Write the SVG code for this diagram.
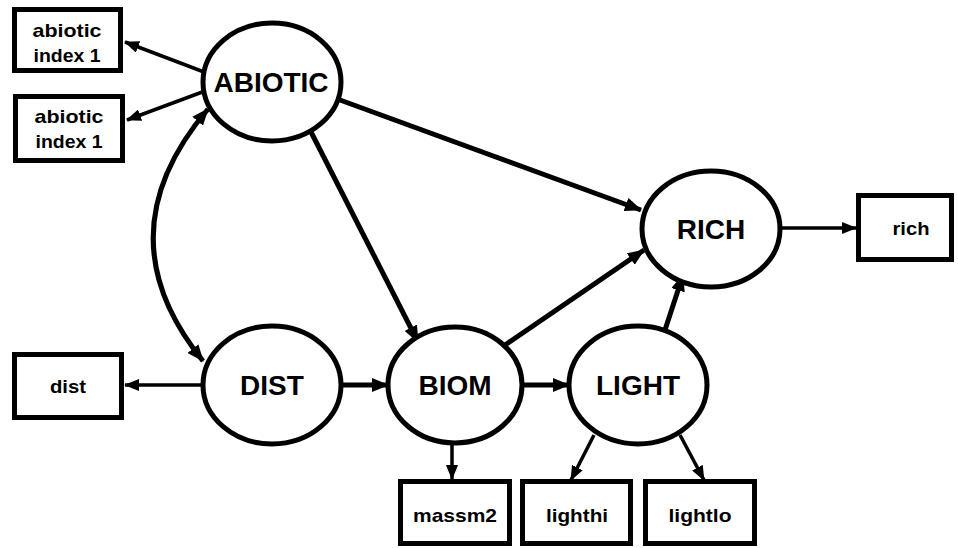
<svg xmlns="http://www.w3.org/2000/svg" width="958" height="548" viewBox="0 0 958 548">
  <defs>
    <marker id="head" markerUnits="userSpaceOnUse" markerWidth="18" markerHeight="14" refX="16" refY="7" orient="auto-start-reverse">
      <path d="M0,0 L17,7 L0,14 Z" fill="#000"/>
    </marker>
    <marker id="headS" markerUnits="userSpaceOnUse" markerWidth="16" markerHeight="12" refX="14" refY="6" orient="auto-start-reverse">
      <path d="M0,0 L15,6 L0,12 Z" fill="#000"/>
    </marker>
  </defs>
  <style>
    .latent ellipse { fill: #fff; stroke: #000; stroke-width: 5; }
    .latent text { font-family: "Liberation Sans", Arial, sans-serif; font-weight: bold; font-size: 28px; text-anchor: middle; fill: #000; }
    .obs rect { fill: #fff; stroke: #000; stroke-width: 5; }
    .obs text { font-family: "Liberation Sans", Arial, sans-serif; font-weight: bold; font-size: 18.5px; text-anchor: middle; fill: #000; }
    .thick { stroke: #000; stroke-width: 5; fill: none; marker-end: url(#head); }
    .thin { stroke: #000; stroke-width: 3.5; fill: none; marker-end: url(#headS); }
  </style>

  <!-- connectors -->
  <g id="connectors">
    <line class="thin" x1="204" y1="72" x2="125" y2="42"/>
    <line class="thin" x1="205" y1="91" x2="127" y2="120"/>
    <path class="thick" d="M208,109 Q101,235 203,361" style="marker-start:url(#head)"/>
    <line class="thick" x1="340" y1="100" x2="641" y2="210"/>
    <line class="thick" x1="310" y1="130" x2="418" y2="342"/>
    <line class="thick" x1="505" y1="345" x2="644" y2="250"/>
    <line class="thick" x1="665" y1="330" x2="683" y2="275"/>
    <line class="thin" x1="781" y1="228" x2="856" y2="228"/>
    <line class="thin" x1="203" y1="385" x2="125" y2="385"/>
    <line class="thick" x1="342" y1="385" x2="388" y2="385"/>
    <line class="thick" x1="523" y1="385" x2="569" y2="385"/>
    <line class="thin" x1="452" y1="445" x2="452" y2="479"/>
    <line class="thin" x1="594" y1="435" x2="571" y2="480"/>
    <line class="thin" x1="680" y1="435" x2="704" y2="480"/>
  </g>

  <!-- latent variables -->
  <g id="abiotic" class="latent">
    <ellipse cx="272" cy="82" rx="69" ry="59"/>
    <text x="271" y="92">ABIOTIC</text>
  </g>
  <g id="rich-latent" class="latent">
    <ellipse cx="711" cy="229" rx="69" ry="58"/>
    <text x="711" y="239">RICH</text>
  </g>
  <g id="dist-latent" class="latent">
    <ellipse cx="272" cy="385" rx="69" ry="59"/>
    <text x="272" y="395">DIST</text>
  </g>
  <g id="biom" class="latent">
    <ellipse cx="455" cy="385" rx="67" ry="58"/>
    <text x="455" y="395">BIOM</text>
  </g>
  <g id="light" class="latent">
    <ellipse cx="638" cy="385" rx="69" ry="59"/>
    <text x="638" y="395">LIGHT</text>
  </g>

  <!-- indicators -->
  <g id="abiotic-index-a" class="obs">
    <rect x="14.5" y="9.5" width="106" height="61"/>
    <text x="67" y="37" textLength="69" lengthAdjust="spacingAndGlyphs">abiotic</text>
    <text x="67" y="62" textLength="67" lengthAdjust="spacingAndGlyphs">index 1</text>
  </g>
  <g id="abiotic-index-b" class="obs">
    <rect x="15.5" y="96.5" width="107" height="64"/>
    <text x="69" y="123" textLength="69" lengthAdjust="spacingAndGlyphs">abiotic</text>
    <text x="69" y="148" textLength="67" lengthAdjust="spacingAndGlyphs">index 1</text>
  </g>
  <g id="dist" class="obs">
    <rect x="14.5" y="354.5" width="107" height="63"/>
    <text x="68" y="393" textLength="36" lengthAdjust="spacingAndGlyphs">dist</text>
  </g>
  <g id="rich" class="obs">
    <rect x="858.5" y="195.5" width="93" height="64"/>
    <text x="911" y="235" textLength="37" lengthAdjust="spacingAndGlyphs">rich</text>
  </g>
  <g id="massm2" class="obs">
    <rect x="400.5" y="481.5" width="109" height="62"/>
    <text x="455" y="522" textLength="84" lengthAdjust="spacingAndGlyphs">massm2</text>
  </g>
  <g id="lighthi" class="obs">
    <rect x="522.5" y="481.5" width="108" height="62"/>
    <text x="577" y="522" textLength="62" lengthAdjust="spacingAndGlyphs">lighthi</text>
  </g>
  <g id="lightlo" class="obs">
    <rect x="645.5" y="481.5" width="109" height="62"/>
    <text x="700" y="522" textLength="63" lengthAdjust="spacingAndGlyphs">lightlo</text>
  </g>
</svg>
